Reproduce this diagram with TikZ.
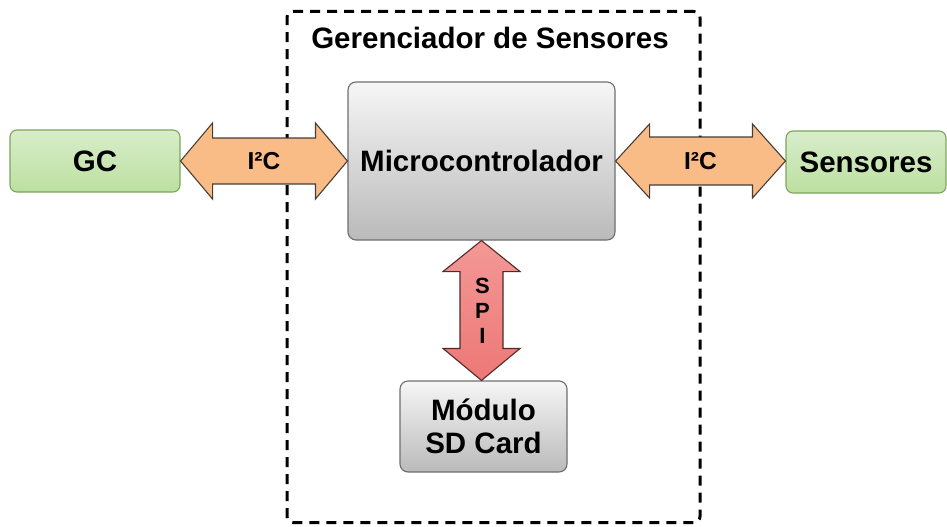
\documentclass[tikz,border=0pt]{standalone}
\usepackage{fontspec}
\setmainfont{Liberation Sans}
\usetikzlibrary{calc}

\definecolor{grayTop}{RGB}{246,246,246}
\definecolor{grayBot}{RGB}{186,186,186}
\definecolor{grayLine}{RGB}{110,110,110}
\definecolor{greenTop}{RGB}{216,237,203}
\definecolor{greenBot}{RGB}{188,224,160}
\definecolor{greenLine}{RGB}{125,165,92}
\definecolor{orangeFill}{RGB}{250,188,134}
\definecolor{orangeLine}{RGB}{70,62,55}
\definecolor{redTop}{RGB}{243,152,150}
\definecolor{redBot}{RGB}{236,120,118}
\definecolor{redLine}{RGB}{85,40,40}

\tikzset{
  blockbase/.style={rounded corners=8pt, line width=1.1pt, inner sep=0pt,
    align=center, text=black,
    font=\bfseries\fontsize{29.5}{33}\selectfont},
  graybox/.style={blockbase, draw=grayLine, top color=grayTop, bottom color=grayBot},
  greenbox/.style={blockbase, rounded corners=7pt, draw=greenLine, top color=greenTop, bottom color=greenBot},
  groupbox/.style={draw=black, line width=3pt, dash pattern=on 10pt off 7pt,
    rounded corners=6pt, inner sep=0pt},
  orangearrow/.style={draw=orangeLine, line width=1.1pt, fill=orangeFill, line join=miter},
  redarrow/.style={draw=redLine, line width=1.1pt, top color=redTop, bottom color=redBot, line join=miter},
  buslabel/.style={font=\bfseries\fontsize{24.5}{26}\selectfont, text=black, inner sep=0pt},
  spilabel/.style={font=\bfseries\fontsize{22}{25}\selectfont, text=black, inner sep=0pt, align=center},
  titlelabel/.style={font=\bfseries\fontsize{29.5}{33}\selectfont, text=black, inner sep=0pt},
}

\begin{document}
\begin{tikzpicture}[x=1pt,y=-1pt]
\useasboundingbox (0,0) rectangle (947,527);

% dashed boundary of the sensor manager
\node[groupbox, minimum width=413pt, minimum height=511pt] (group) at (493.5,267) {};
\node[titlelabel] (title) at (490,38) {Gerenciador de Sensores};

% blocks
\node[graybox, minimum width=267pt, minimum height=158pt] (mcu) at (481.5,161) {Microcontrolador};
\node[greenbox, minimum width=170pt, minimum height=62pt] (gc) at (95,161) {GC};
\node[greenbox, minimum width=160pt, minimum height=62pt] (sens) at (866,162) {Sensores};
\node[graybox, minimum width=167pt, minimum height=91pt] (sd) at (483.5,426.5) {Módulo\\SD Card};

% I2C link to GC
\draw[orangearrow] let \p1=(gc.east), \p2=(mcu.west) in
  (\x1,\y1) -- (\x1+32pt,\y1+38pt) -- (\x1+32pt,\y1+23pt) -- (\x2-32pt,\y1+23pt)
  -- (\x2-32pt,\y1+38pt) -- (\x2,\y1) -- (\x2-32pt,\y1-38pt) -- (\x2-32pt,\y1-23pt)
  -- (\x1+32pt,\y1-23pt) -- (\x1+32pt,\y1-38pt) -- cycle;
\node[buslabel] (i2cL) at ($(gc.east)!0.5!(mcu.west)$) {I²C};

% I2C link to the sensors
\draw[orangearrow] let \p1=(mcu.east), \p2=(sens.west) in
  (\x1,\y1) -- (\x1+34pt,\y1+37pt) -- (\x1+34pt,\y1+24pt) -- (\x2-33pt,\y1+24pt)
  -- (\x2-33pt,\y1+37pt) -- (\x2,\y1) -- (\x2-33pt,\y1-37pt) -- (\x2-33pt,\y1-24pt)
  -- (\x1+34pt,\y1-24pt) -- (\x1+34pt,\y1-37pt) -- cycle;
\node[buslabel] (i2cR) at ($(mcu.east)!0.5!(sens.west)$) {I²C};

% SPI link to the SD card module
\draw[redarrow] let \p1=(mcu.south), \p2=(sd.north) in
  (\x1,\y1) -- (\x1+38.5pt,\y1-31pt) -- (\x1+21.5pt,\y1-31pt) -- (\x1+21.5pt,\y2+32pt)
  -- (\x1+38.5pt,\y2+32pt) -- (\x1,\y2) -- (\x1-38.5pt,\y2+32pt) -- (\x1-21.5pt,\y2+32pt)
  -- (\x1-21.5pt,\y1-31pt) -- (\x1-38.5pt,\y1-31pt) -- cycle;
\node[spilabel] (spi) at ($(mcu.south)!0.5!(sd.north)$) {S\\P\\I};
\end{tikzpicture}
\end{document}
